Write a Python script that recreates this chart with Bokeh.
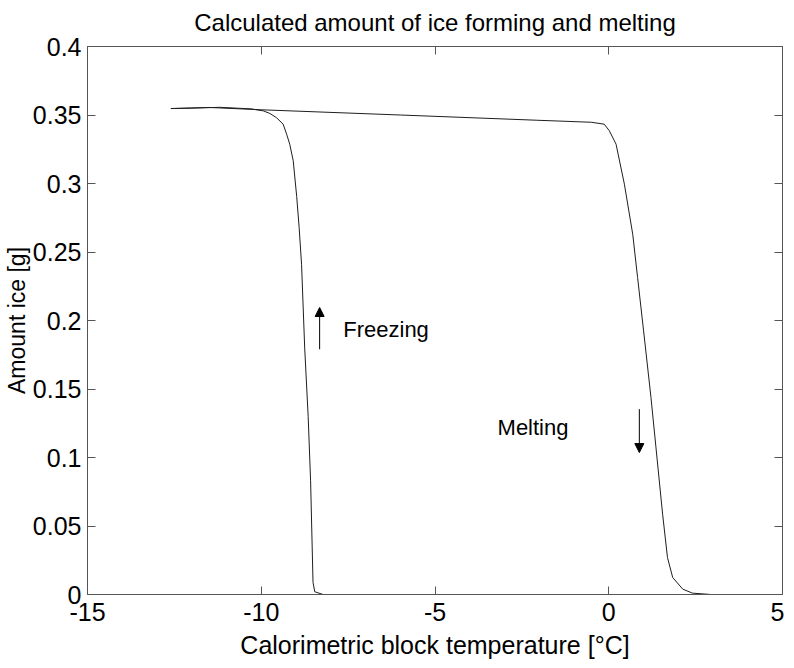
from bokeh.plotting import figure
from bokeh.models import Range1d, FixedTicker, LinearAxis, Arrow, NormalHead, Label
from bokeh.embed import file_html
from bokeh.resources import INLINE

# ---- data ----
freeze_temp = [-8.22, -8.46, -8.51, -8.58, -8.65, -8.75, -8.84, -8.91, -8.98, -9.08,
               -9.18, -9.27, -9.37, -9.56, -9.75, -9.94, -10.3, -11.2, -12.0, -12.6]
freeze_ice = [0.0, 0.002, 0.0088, 0.083, 0.130, 0.180, 0.241, 0.268, 0.2905, 0.3166,
              0.3287, 0.336, 0.3433, 0.348, 0.3511, 0.353, 0.3545, 0.3556, 0.355, 0.3547]

melt_temp = [-12.6, -11.5, -10.0, -6.0, -2.09, -0.5, -0.13, 0.017, 0.21, 0.45, 0.69, 0.83,
             1.0, 1.215, 1.36, 1.55, 1.69, 1.84, 2.13, 2.41, 2.94]
melt_ice = [0.3547, 0.3555, 0.3538, 0.350, 0.3462, 0.3447, 0.3433, 0.3385, 0.3287, 0.2995,
            0.263, 0.2314, 0.193, 0.1438, 0.107, 0.0586, 0.027, 0.0124, 0.0039, 0.001, 0.0]

x_ticks = [-15, -10, -5, 0, 5]
x_tick_labels = ["-15", "-10", "-5", "0", "5"]
y_ticks = [0, 0.05, 0.1, 0.15, 0.2, 0.25, 0.3, 0.35, 0.4]
y_tick_labels = ["0", "0.05", "0.1", "0.15", "0.2", "0.25", "0.3", "0.35", "0.4"]

title_text = "Calculated amount of ice forming and melting"
x_label_text = "Calorimetric block temperature [°C]"
y_label_text = "Amount ice [g]"

freeze_label = ("Freezing", -7.64, 0.1936)
melt_label = ("Melting", -3.2, 0.1219)
freeze_arrow = (-8.32, 0.179, -8.32, 0.2095)
melt_arrow = (0.88, 0.1353, 0.88, 0.1036)

FONT = "Liberation Sans"
AXIS_COLOR = "#555555"
LINE_COLOR = "#1e1e1e"

p = figure(frame_width=695, frame_height=548, x_range=Range1d(-15, 5), y_range=Range1d(0, 0.4),
           output_backend="svg", toolbar_location=None, title=title_text,
           min_border_left=83, min_border_right=2, min_border_top=41, min_border_bottom=60)
p.background_fill_color = "white"
p.border_fill_color = "white"
p.outline_line_color = None
p.grid.visible = False

p.title.text_font = FONT
p.title.text_font_size = "24px"
p.title.text_font_style = "normal"
p.title.align = "center"
p.title.vertical_align = "top"
p.title.text_color = "black"
p.title.standoff = 17

p.xaxis.axis_label = x_label_text
p.yaxis.axis_label = y_label_text

for ax in [p.xaxis[0], p.yaxis[0]]:
    ax.axis_label_text_font = FONT
    ax.axis_label_text_font_style = "normal"
    ax.axis_label_text_color = "black"
    ax.major_label_text_font = FONT
    ax.major_label_text_font_size = "25px"
    ax.major_label_text_color = "black"
    ax.axis_line_color = AXIS_COLOR
    ax.major_tick_line_color = AXIS_COLOR
    ax.major_tick_in = 8
    ax.major_tick_out = 0
    ax.minor_tick_line_color = None
    ax.major_label_standoff = 6
p.xaxis.major_label_standoff = 8
p.xaxis.axis_label_text_font_size = "25px"
p.yaxis.axis_label_text_font_size = "23px"
p.xaxis.axis_label_standoff = 7
p.yaxis.axis_label_standoff = 0

p.xaxis.ticker = FixedTicker(ticks=x_ticks)
p.yaxis.ticker = FixedTicker(ticks=y_ticks)
p.xaxis.major_label_overrides = dict(zip(x_ticks, x_tick_labels))
p.yaxis.major_label_overrides = dict(zip(y_ticks, y_tick_labels))

top = LinearAxis(ticker=FixedTicker(ticks=x_ticks))
right = LinearAxis(ticker=FixedTicker(ticks=y_ticks))
top.major_label_overrides = {t: "" for t in x_ticks}
right.major_label_overrides = {t: "" for t in y_ticks}
for ax in [top, right]:
    ax.major_label_text_font_size = "1px"
    ax.major_label_standoff = 0
    ax.axis_line_color = AXIS_COLOR
    ax.major_tick_line_color = AXIS_COLOR
    ax.major_tick_in = 8
    ax.major_tick_out = 0
    ax.minor_tick_line_color = None
p.add_layout(top, "above")
p.add_layout(right, "right")

p.line(melt_temp, melt_ice, line_color=LINE_COLOR, line_width=1)
p.line(freeze_temp, freeze_ice, line_color=LINE_COLOR, line_width=1)

for (x0, y0, x1, y1) in [freeze_arrow, melt_arrow]:
    p.add_layout(Arrow(x_start=x0, y_start=y0, x_end=x1, y_end=y1,
                       line_color="black", line_width=1,
                       end=NormalHead(size=9, fill_color="black", line_color="black", line_width=1)))

for (txt, lx, ly) in [freeze_label, melt_label]:
    p.add_layout(Label(x=lx, y=ly, text=txt, text_font=FONT, text_font_size="22px",
                       text_color="black", text_baseline="middle", text_align="left"))

open("out.html", "w").write(file_html(p, INLINE))
